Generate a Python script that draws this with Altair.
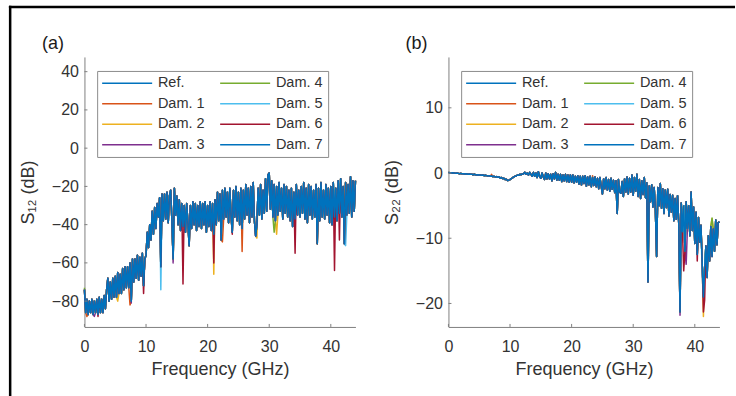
import altair as alt
import pandas as pd

# ---------------- data ----------------
FREQ = [round(0.2 * i, 1) for i in range(221)]  # 0 ... 44 GHz

S12_BASE = [
    -74, -86, -79, -87, -80,  -86, -79, -87, -80, -86,
    -79, -87, -78, -86, -79,  -86, -77, -84, -74, -68,
    -80, -70, -79, -68, -78,  -67, -78, -65, -76, -66,
    -76, -63, -74, -62, -73,  -62, -73, -60, -80, -58,
    -70, -58, -68, -56, -69,  -57, -67, -55, -72, -58,
    -56, -44, -52, -40, -48,  -33, -45, -31, -42, -29,
    -36, -26, -62, -24, -38,  -24, -37, -23, -39, -25,
    -22, -38, -58, -21, -35,  -25, -40, -27, -43, -29,
    -41, -30, -44, -29, -39,  -51, -30, -42, -28, -40,
    -29, -43, -30, -41, -28,  -42, -29, -40, -28, -44,
    -30, -41, -28, -43, -29,  -45, -27, -40, -23, -38,
    -24, -48, -22, -37, -21,  -36, -23, -39, -21, -35,
    -44, -22, -36, -20, -38,  -23, -40, -21, -42, -22,
    -37, -19, -35, -21, -39,  -20, -36, -18, -38, -46,
    -40, -21, -35, -19, -37,  -22, -34, -16, -33, -14,
    -13, -32, -17, -36, -19,  -38, -20, -35, -18, -33,
    -21, -37, -19, -34, -20,  -36, -22, -38, -21, -41,
    -23, -37, -19, -35, -22,  -36, -20, -34, -18, -37,
    -21, -39, -19, -35, -20,  -37, -22, -36, -19, -50,
    -21, -38, -18, -36, -22,  -37, -19, -35, -21, -39,
    -20, -40, -18, -36, -21,  -38, -17, -34, -16, -36,
    -20, -50, -18, -35, -19,  -34, -15, -36, -17, -33,
    -17,
]

S22_BASE = [
    0.1, 0.05, 0.0, 0.05, 0.0,      0.0, -0.05, 0.0, -0.05, -0.1,
    -0.05, -0.1, -0.1, -0.15, -0.1, -0.15, -0.2, -0.15, -0.2, -0.2,
    -0.25, -0.2, -0.25, -0.3, -0.25, -0.3, -0.3, -0.35, -0.3, -0.4,
    -0.35, -0.4, -0.45, -0.4, -0.5, -0.45, -0.55, -0.5, -0.6, -0.55,
    -0.65, -0.6, -0.75, -0.7, -0.85, -0.8, -1.0, -0.95, -1.15, -1.1,
    -1.0, -0.85, -0.75, -0.6, -0.5,  -0.45, -0.3, -0.35, -0.2, -0.25,
    -0.15, -0.1, 0.1, -0.2, 0.0,     -0.3, 0.1, -0.2, -0.5, 0.1,
    -0.5, 0.0, -0.7, 0.2, -0.5,      -0.8, 0.0, -0.6, -1.0, 0.0,
    -0.9, -0.1, -0.9, -0.2, -1.2,    -0.1, -0.9, 0.1, -1.1, -0.2,
    -1.1, -0.2, -1.3, -0.3, -1.2,    -0.2, -1.3, -0.3, -1.4, -0.3,
    -1.4, -0.3, -1.5, -0.5, -1.4,    -0.4, -1.7, -0.5, -1.8, -0.5,
    -1.6, -0.4, -2.0, -0.6, -1.8,    -0.5, -2.1, -0.7, -1.9, -0.6,
    -2.1, -0.8, -2.4, -0.7, -2.0,    -3.2, -0.9, -2.4, -0.7, -2.6,
    -1.0, -2.8, -0.8, -2.5, -1.1,    -3.0, -1.2, -6.2, -1.0, -2.9,
    -3.1, -1.3, -3.6, -0.9, -2.9,    -0.6, -3.2, -0.8, -2.9, -0.3,
    -3.4, -0.7, -2.8, -0.2, -3.6,    -1.0, -3.9, -1.2, -3.3, -0.7,
    -3.8, -1.5, -16.7, -2.0, -4.4,   -1.8, -5.2, -2.2, -5.6, -12.8,
    -2.2, -5.0, -1.6, -5.4, -2.4,    -6.2, -2.6, -5.3, -2.5, -6.6,
    -3.3, -6.0, -3.4, -7.3, -3.9,    -7.1, -3.5, -7.8, -21.3, -4.6,
    -9.0, -5.0, -12.0, -4.4, -8.5,   -5.0, -9.6, -2.9, -8.8, -5.2,
    -10.8, -6.0, -12.5, -6.8, -10.6, -8.0, -13.8, -19.0, -14.6, -11.2,
    -16.0, -9.6, -13.5, -8.2, -12.8, -8.6, -12.0, -7.2, -11.0, -7.6,
    -7.5,
]

SERIES = ["Ref.", "Dam. 1", "Dam. 2", "Dam. 3", "Dam. 4", "Dam. 5", "Dam. 6", "Dam. 7"]
COLORS = ["#0072BD", "#D95319", "#EDB120", "#7E2F8E", "#77AC30", "#4DBEEE", "#A2142F", "#0072BD"]

# points (GHz, dB) where a damaged state departs from the common trace
S12_DEV = {
    "Dam. 1": [(0.4, -88), (7.4, -82), (22.4, -49), (25.6, -54)],
    "Dam. 2": [(5.4, -80), (21.0, -66), (28.0, -47), (31.2, -45)],
    "Dam. 3": [(1.6, -88), (7.6, -81), (14.4, -60)],
    "Dam. 4": [(0.0, -73), (27.8, -45), (30.8, -44)],
    "Dam. 5": [(12.4, -74), (22.2, -47), (27.8, -46), (37.8, -45), (42.4, -51)],
    "Dam. 6": [(2.2, -88), (9.6, -76), (16.0, -71), (21.0, -60), (24.0, -45),
               (34.2, -55), (40.6, -64), (41.4, -48)],
}
S22_DEV = {
    "Dam. 1": [(7.0, -0.2), (9.4, -0.9), (23.4, -0.4)],
    "Dam. 2": [(41.4, -22.0), (42.8, -7.0)],
    "Dam. 3": [(37.6, -21.8), (38.6, -14.0)],
    "Dam. 4": [(42.8, -6.9)],
    "Dam. 5": [(41.2, -15.5)],
    "Dam. 6": [(38.2, -15.0), (40.4, -13.5), (41.4, -21.3), (41.6, -19.5)],
}

X_TICKS = [0, 10, 20, 30, 40]
S12_TICKS = [-80, -60, -40, -20, 0, 20, 40]
S22_TICKS = [-20, -10, 0, 10]


def build(base, dev):
    rows = []
    for s in SERIES:
        d = dict(dev.get(s, []))
        for f, v in zip(FREQ, base):
            rows.append({"f": f, "v": d.get(f, v), "s": s})
    return pd.DataFrame(rows)


FONT = "Liberation Sans"
AX = "#7f7f7f"
TXT = "#333333"
W, H = 271, 270
ONE = pd.DataFrame({"k": [0]})


def panel(df, ydom, yticks, ytitle, tag, tag_x, frame):
    xs = alt.Scale(domain=[0, 44], nice=False, zero=False)
    ys = alt.Scale(domain=ydom, nice=False, zero=False)
    xax = alt.Axis(values=X_TICKS, title="Frequency (GHz)", labelPadding=12,
                   titlePadding=6, labelFlush=False)
    yax = alt.Axis(values=yticks, title=ytitle, labelPadding=6, titlePadding=14,
                   labelFlush=False)
    lines = alt.Chart(df).mark_line(strokeWidth=1.5, strokeJoin="round").encode(
        x=alt.X("f:Q", scale=xs, axis=xax),
        y=alt.Y("v:Q", scale=ys, axis=yax),
        color=alt.Color("s:N", scale=alt.Scale(domain=SERIES, range=COLORS),
                        legend=alt.Legend(orient="none", legendX=12.7, legendY=14, columns=2,
                                          title=None, symbolType="M-5,0H5", symbolSize=100,
                                          symbolOffset=17.75, symbolStrokeWidth=1.5,
                                          labelFont=FONT, labelFontSize=14.5,
                                          labelColor=TXT, padding=5, rowPadding=5.5,
                                          columnPadding=12, labelOffset=23.5,
                                          strokeColor="#8c8c8c", fillColor="white")),
    )
    xt = alt.Chart(pd.DataFrame({"f": X_TICKS})).mark_rule(color=AX, strokeWidth=1).encode(
        x=alt.X("f:Q", scale=xs, axis=xax), y=alt.value(H), y2=alt.value(H - 3))
    yt = alt.Chart(pd.DataFrame({"v": yticks})).mark_rule(color=AX, strokeWidth=1).encode(
        y=alt.Y("v:Q", scale=ys, axis=yax), x=alt.value(0), x2=alt.value(3))
    label = alt.Chart(ONE).mark_text(text=tag, font=FONT, fontSize=18, color="#1a1a1a",
                                     align="center", baseline="middle").encode(
        x=alt.value(tag_x), y=alt.value(-12.5))
    layers = []
    if frame:
        top = alt.Chart(ONE).mark_rect(color="black").encode(
            x=alt.value(-75.55), x2=alt.value(651), y=alt.value(-51.25), y2=alt.value(-48.75))
        left = alt.Chart(ONE).mark_rect(color="black").encode(
            x=alt.value(-75.55), x2=alt.value(-73.05), y=alt.value(-51.25), y2=alt.value(339))
        layers += [top, left]
    layers += [lines, xt, yt, label]
    return alt.layer(*layers).properties(width=W, height=H)


pa = panel(build(S12_BASE, S12_DEV), [-93.5, 47.7], S12_TICKS, "S\u2081\u2082 (dB)", "(a)", -31.5, True)
pb = panel(build(S22_BASE, S22_DEV), [-23.6, 17.8], S22_TICKS, "S\u2082\u2082 (dB)", "(b)", -32, False)

chart = (
    alt.hconcat(pa, pb, spacing=93, bounds="flush")
    .resolve_scale(color="independent", x="independent", y="independent")
    .resolve_legend(color="independent")
    .properties(padding={"left": 8.45, "top": 4.95, "right": 0, "bottom": 0})
    .configure_view(stroke=None)
    .configure_axis(domainColor=AX, domainWidth=1, ticks=False, grid=False,
                    labelFont=FONT, labelFontSize=16, labelColor=TXT,
                    titleFont=FONT, titleFontSize=18, titleFontWeight="normal", titleColor=TXT)
)

chart.save("out.html", embed_options={"renderer": "svg", "actions": False})
